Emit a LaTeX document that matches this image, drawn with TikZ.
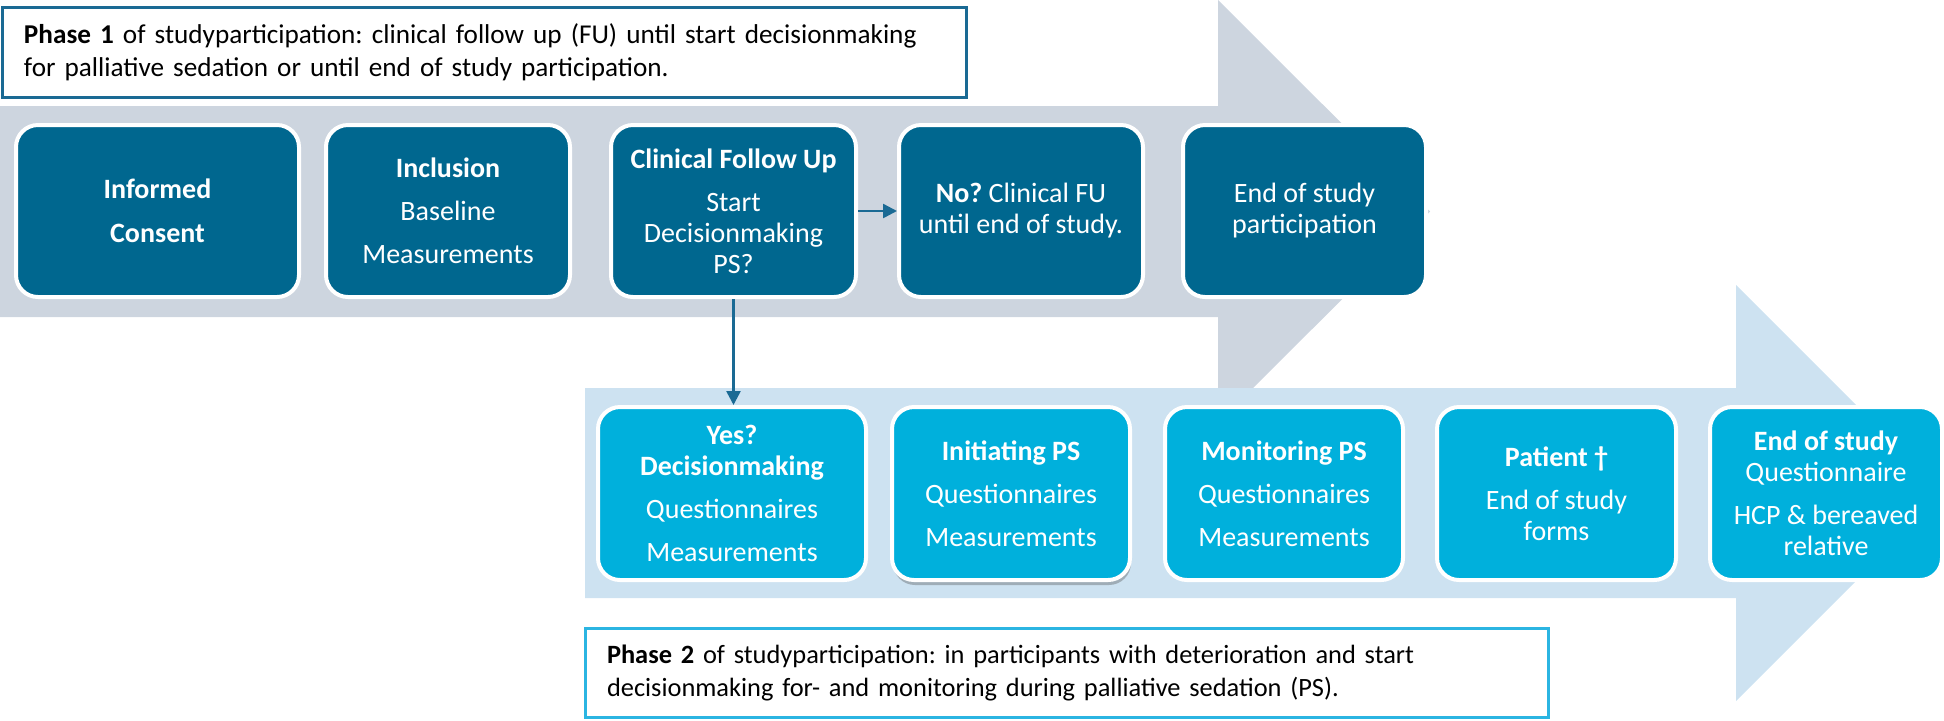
\documentclass[tikz,border=0pt]{standalone}
\usepackage{fontspec}
\setmainfont{Carlito}
\usetikzlibrary{shadows,arrows.meta}
\definecolor{dkblue}{RGB}{0,103,143}
\definecolor{cyanb}{RGB}{0,176,220}
\definecolor{greyarr}{RGB}{205,213,223}
\definecolor{ltarr}{RGB}{205,226,241}
\definecolor{pOneBorder}{RGB}{26,106,148}
\definecolor{pTwoBorder}{RGB}{43,181,226}
\frenchspacing
\begin{document}
\begin{tikzpicture}[x=0.5pt,y=-0.5pt,
  box/.style={rounded corners=11pt, draw=white, line width=2pt, text=white, align=center, inner sep=0pt, font=\fontsize{14}{15.5}\selectfont},
  topbox/.style={box, fill=dkblue, minimum height=86pt},
  botbox/.style={box, fill=cyanb, minimum height=86.5pt},
  phase/.style={fill=white, line width=1.5pt, align=left, inner xsep=11pt, inner ysep=0pt, text=black},
  link/.style={draw=pOneBorder, line width=1.25pt, -{Triangle[length=7pt,width=7pt]}}
]
\useasboundingbox (0,0) rectangle (1944,720);
% background process arrows
\fill[greyarr] (0,106) -- (1218,106) -- (1218,0) -- (1430,211.5) -- (1218,423) -- (1218,317) -- (0,317) -- cycle;
\fill[ltarr] (585,388) -- (1736,388) -- (1736,285) -- (1944,493) -- (1736,701) -- (1736,598) -- (585,598) -- cycle;
% phase captions
\node[phase, draw=pOneBorder, minimum width=482pt, minimum height=45pt, text width=460pt, font=\fontsize{13.6}{16.5}\selectfont] (phaseone) at (484,52)
 {\textbf{Phase 1} of studyparticipation: clinical follow up (FU) until start decisionmaking\\for palliative sedation or until end of study participation.};
\node[phase, draw=pTwoBorder, minimum width=481.5pt, minimum height=44.5pt, text width=459.5pt, font=\fontsize{13.2}{16.5}\selectfont] (phasetwo) at (1066.5,672.5)
 {\textbf{Phase 2} of studyparticipation: in participants with deterioration and start\\decisionmaking for- and monitoring during palliative sedation (PS).};
% phase 1 boxes
\node[topbox, minimum width=141.5pt] (ic) at (157.5,211) {\textbf{Informed}\\[6.5pt]\textbf{Consent}};
\node[topbox, minimum width=122pt] (incl) at (448,211) {\textbf{Inclusion}\\[6pt]Baseline\\[6pt]Measurements};
\node[topbox, minimum width=122.5pt] (cfu) at (733.5,211) {\textbf{Clinical Follow Up}\\[6pt]Start\\Decisionmaking\\PS?};
\node[topbox, minimum width=122pt] (no) at (1021,211) {\textbf{No?} Clinical FU\\until end of study.};
\node[topbox, minimum width=121.5pt] (endp) at (1304.5,211) {End of study\\participation};
% phase 2 boxes
\node[botbox, minimum width=134pt] (yes) at (732,493.5) {\textbf{Yes?}\\\textbf{Decisionmaking}\\[6pt]Questionnaires\\[6pt]Measurements};
\node[botbox, minimum width=119pt, drop shadow={shadow xshift=0.5pt, shadow yshift=-2.5pt, opacity=0.35, fill=black!70}] (init) at (1011,493.5) {\textbf{Initiating PS}\\[6pt]Questionnaires\\[6pt]Measurements};
\node[botbox, minimum width=119pt] (mon) at (1284,493.5) {\textbf{Monitoring PS}\\[6pt]Questionnaires\\[6pt]Measurements};
\node[botbox, minimum width=119.5pt] (pat) at (1556.5,493.5) {\textbf{Patient †}\\[6pt]End of study\\forms};
\node[botbox, minimum width=116pt] (endq) at (1826,493.5) {\textbf{End of study}\\Questionnaire\\[6pt]HCP \& bereaved\\relative};
% connectors
\draw[link] (cfu.east) -- (no.west);
\draw[link] (cfu.south) -- (cfu.south |- yes.north);
\end{tikzpicture}
\end{document}
